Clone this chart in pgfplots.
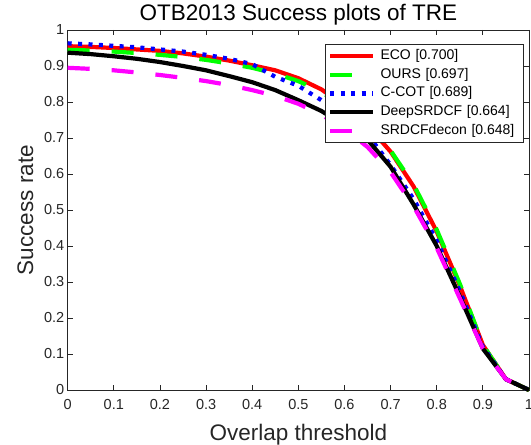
\documentclass[border=0pt]{standalone}
\usepackage{pgfplots}
\pgfplotsset{compat=1.18}
\usepackage{fontspec}
\setmainfont{Liberation Sans}
\definecolor{axgray}{gray}{0.15}
\definecolor{mred}{rgb}{1,0,0}
\definecolor{mgreen}{rgb}{0,1,0}
\definecolor{mblue}{rgb}{0,0,1}
\definecolor{mmag}{rgb}{1,0,1}

\pgfplotstableread{
t     eco    ours   ccot   deep   decon
0.00  0.955  0.945  0.963  0.937  0.895
0.05  0.953  0.943  0.960  0.933  0.892
0.10  0.950  0.940  0.956  0.927  0.888
0.15  0.946  0.936  0.952  0.920  0.882
0.20  0.942  0.931  0.946  0.911  0.875
0.25  0.935  0.925  0.940  0.900  0.867
0.30  0.926  0.917  0.931  0.888  0.858
0.35  0.915  0.907  0.920  0.872  0.847
0.40  0.902  0.895  0.905  0.855  0.833
0.45  0.888  0.879  0.870  0.833  0.817
0.50  0.866  0.858  0.845  0.805  0.795
0.55  0.835  0.828  0.805  0.775  0.765
0.60  0.790  0.785  0.755  0.735  0.725
0.65  0.735  0.735  0.710  0.695  0.675
0.70  0.662  0.665  0.625  0.620  0.605
0.75  0.565  0.570  0.530  0.515  0.510
0.80  0.440  0.445  0.415  0.400  0.395
0.85  0.290  0.295  0.275  0.260  0.255
0.90  0.125  0.125  0.120  0.115  0.115
0.95  0.030  0.030  0.030  0.030  0.030
1.00  0.000  0.000  0.000  0.000  0.000
}\datatable

\begin{document}
\begin{tikzpicture}
\begin{axis}[
  name=ax,
  scale only axis,
  width=461.3pt, height=360pt,
  xmin=0, xmax=1, ymin=0, ymax=1,
  clip=false,
  xtick={0,0.1,0.2,0.3,0.4,0.5,0.6,0.7,0.8,0.9,1},
  xticklabels={0,0.1,0.2,0.3,0.4,0.5,0.6,0.7,0.8,0.9,1},
  ytick={0,0.1,0.2,0.3,0.4,0.5,0.6,0.7,0.8,0.9,1},
  yticklabels={0,0.1,0.2,0.3,0.4,0.5,0.6,0.7,0.8,0.9,1},
  tick align=inside, tick pos=both,
  major tick length=5pt,
  axis line style={axgray, line width=0.8pt},
  every tick/.style={axgray, line width=0.8pt},
  ticklabel style={font=\fontsize{14.5}{16}\selectfont, text=axgray},
  xticklabel style={yshift=-6pt},
  title={OTB2013 Success plots of TRE},
  title style={font=\fontsize{22.5}{26}\selectfont, at={(axis description cs:0.5,1)}, anchor=base, yshift=3pt},
  xlabel={Overlap threshold},
  xlabel style={font=\fontsize{22.5}{26}\selectfont, text=axgray, at={(axis description cs:0.5,0)}, anchor=base, yshift=-51pt},
  ylabel={Success rate},
  ylabel style={font=\fontsize{22.5}{26}\selectfont, text=axgray, at={(axis description cs:-0.0752,0.5)}, anchor=base},
  legend cell align=left,
  legend image code/.code={\draw[#1] (0pt,0pt) -- (43pt,0pt);},
  legend style={at={(axis description cs:0.989,0.961)}, anchor=north east,
    draw=axgray, line width=0.8pt, fill=white,
    font=\fontsize{14}{16}\selectfont,
    inner xsep=3pt, inner ysep=2.5pt,
    row sep=0pt,
    nodes={inner xsep=5pt, inner ysep=2.3pt, text height=10.5pt, text depth=3.5pt, text width=135pt, align=left},
    /tikz/every even column/.append style={column sep=0pt}},
]
\addplot[mred, line width=4.2pt, line join=round] table[x=t, y=eco] {\datatable};
\addlegendentry{ECO [0.700]}
\addplot[mgreen, line width=4.2pt, dash pattern=on 22pt off 22pt] table[x=t, y=ours] {\datatable};
\addlegendentry{OURS [0.697]}
\addplot[mblue, line width=4.2pt, dash pattern=on 4pt off 6.4pt] table[x=t, y=ccot] {\datatable};
\addlegendentry{C-COT [0.689]}
\addplot[black, line width=4.2pt, line join=round] table[x=t, y=deep] {\datatable};
\addlegendentry{DeepSRDCF [0.664]}
\addplot[mmag, line width=4.2pt, dash pattern=on 22pt off 22pt] table[x=t, y=decon] {\datatable};
\addlegendentry{SRDCFdecon [0.648]}
\end{axis}
\pgfresetboundingbox
\path ([shift={(-67.7pt,-55pt)}]ax.south west) rectangle ([shift={(2pt,30pt)}]ax.north east);
\end{tikzpicture}
\end{document}
